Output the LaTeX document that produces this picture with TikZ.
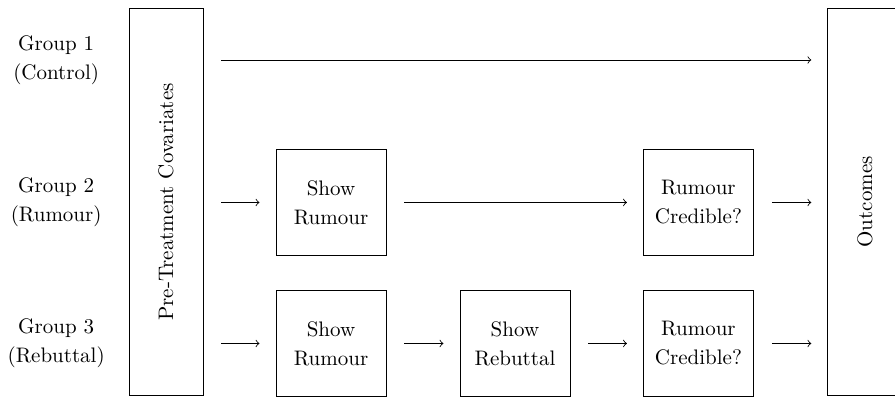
\documentclass[tikz,border=0pt]{standalone}
\usetikzlibrary{arrows,positioning,calc}

\begin{document}
\begin{tikzpicture}[
		stagebox/.style={draw, minimum width=1.84cm, minimum height=1.77cm, align=center, font=\linespread{1.15}\selectfont},
		tallbox/.style={draw, minimum width=1.24cm, minimum height=6.49cm},
		grouplabel/.style={align=center, font=\linespread{1.15}\selectfont},
		flow/.style={->, shorten <=0.30cm, shorten >=0.27cm}
	]
	% Canvas
	\useasboundingbox (0,0) rectangle (14.98,6.644);
	
	% Group labels
	\node[grouplabel] (g1) at (0.94,5.64) {Group 1\\(Control)};
	\node[grouplabel] (g2) at (0.94,3.26) {Group 2\\(Rumour)};
	\node[grouplabel] (g3) at (0.94,0.90) {Group 3\\(Rebuttal)};
	
	% Covariates and outcomes
	\node[tallbox] (pre) at (2.778,3.264) {\rotatebox{90}{Pre-Treatment Covariates}};
	\node[tallbox] (out) at (14.476,3.264) {\rotatebox{90}{Outcomes}};
	
	% Rumour group
	\node[stagebox] (rumour2) at (5.54,3.255) {Show\\Rumour};
	\node[stagebox] (cred2) at (11.69,3.255) {Rumour\\Credible?};
	
	% Rebuttal group
	\node[stagebox] (rumour3) at (5.54,0.895) {Show\\Rumour};
	\node[stagebox] (rebut3) at (8.619,0.895) {Show\\Rebuttal};
	\node[stagebox] (cred3) at (11.69,0.895) {Rumour\\Credible?};
	
	% Control flow
	\draw[flow] (pre.east |- g1) -- (out.west |- g1);
	
	% Rumour flow
	\draw[flow] (pre.east |- rumour2) -- (rumour2.west);
	\draw[flow] (rumour2) -- (cred2);
	\draw[flow] (cred2) -- (out.west |- cred2);
	
	% Rebuttal flow
	\draw[flow] (pre.east |- rumour3) -- (rumour3.west);
	\draw[flow] (rumour3) -- (rebut3);
	\draw[flow] (rebut3) -- (cred3);
	\draw[flow] (cred3) -- (out.west |- cred3);
\end{tikzpicture}
\end{document}
